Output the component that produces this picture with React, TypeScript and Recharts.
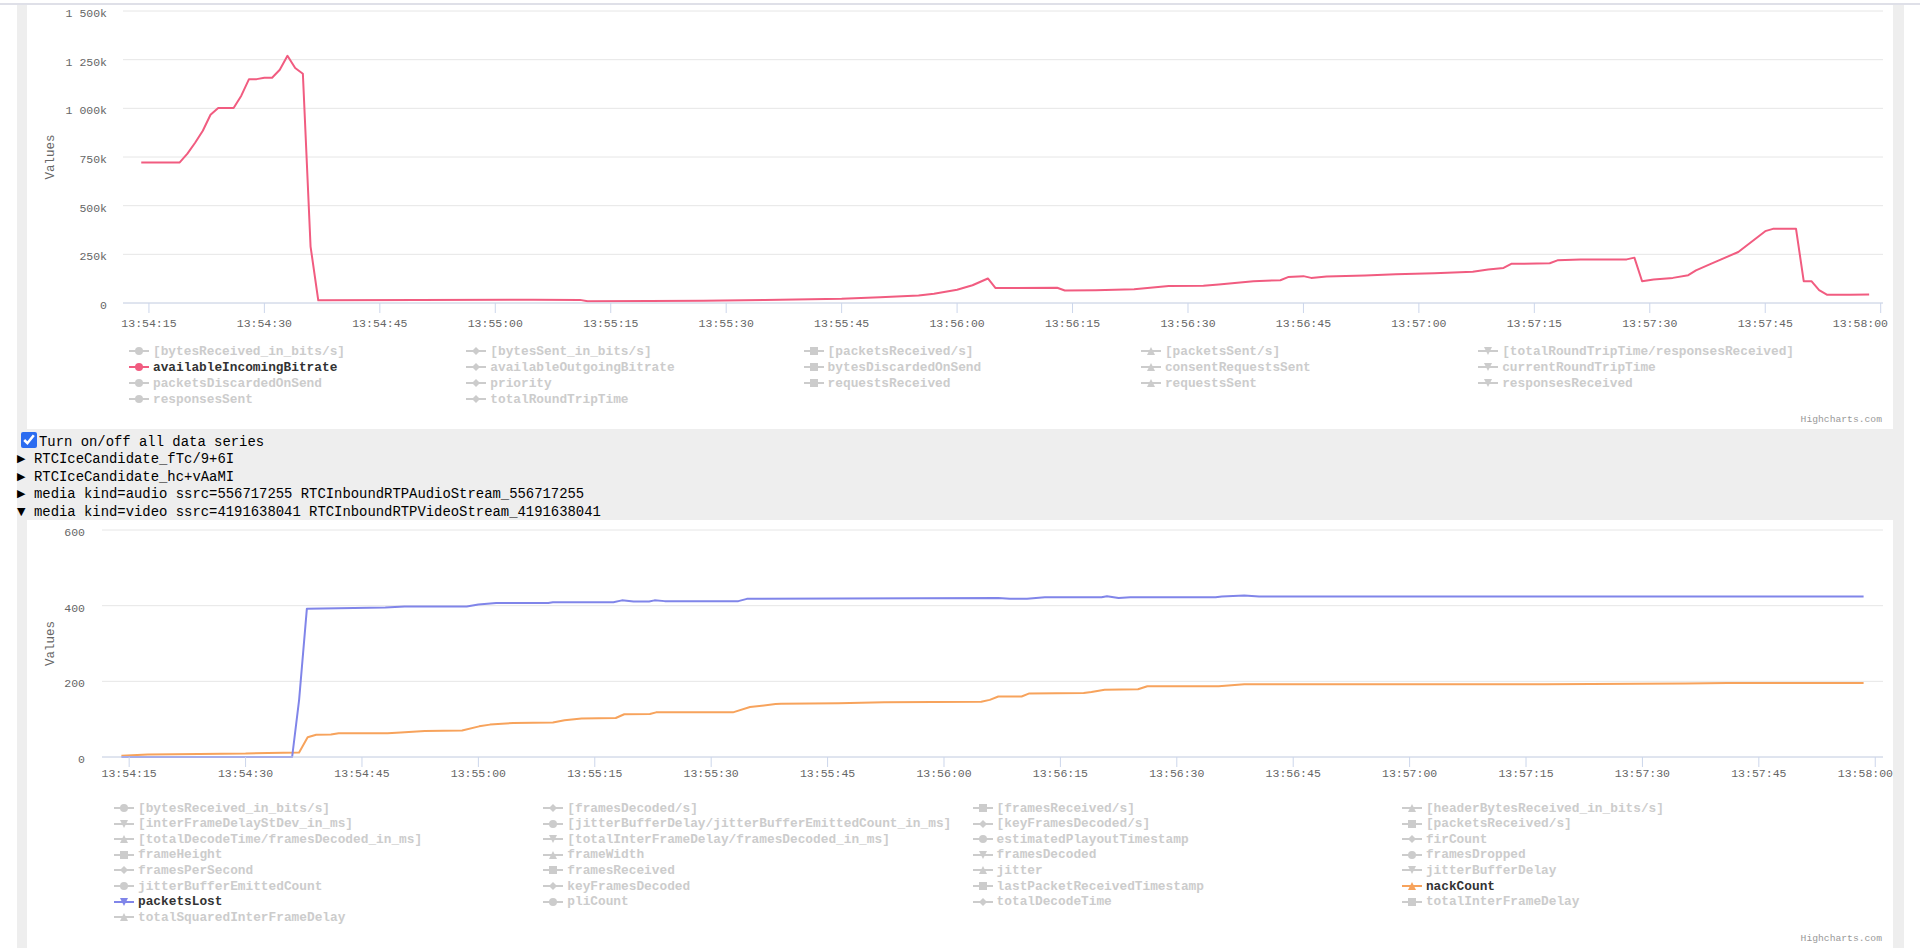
import React from "react";
import { LineChart, Line, XAxis, YAxis, CartesianGrid } from "recharts";

const MONO = '"Liberation Mono", "DejaVu Sans Mono", monospace';

// time is counted in seconds from 13:54:00
const timeTicks = [15, 30, 45, 60, 75, 90, 105, 120, 135, 150, 165, 180, 195, 210, 225, 240];

// availableIncomingBitrate (bits/s, read in k)
const bitrateTimes = [
  14, 19, 20, 21, 22, 23, 24, 26, 27, 28, 29, 30, 31, 32, 33, 34, 35, 36, 37, 50,
  65, 71, 72, 80, 87, 95, 105, 110, 115, 117, 120, 122, 124, 125, 133, 134, 138, 143, 147.5, 152,
  154, 158.5, 162, 163, 165, 166, 168, 173, 177, 182, 187, 189, 191, 192, 197, 198, 201, 207, 208, 209,
  210.5, 213, 215, 216, 218, 221.5, 225, 226, 229, 230, 231, 232, 233, 236, 238.5,
];
const bitrateK = [
  722, 722, 767, 823, 885, 967, 1002, 1002, 1065, 1150, 1150, 1157, 1157, 1198, 1270, 1207, 1178, 290, 14, 15,
  17, 16, 9, 10, 11, 15, 22, 30, 39, 48, 68, 91, 126, 77, 78, 64, 66, 71, 87, 88,
  95, 112, 117, 133, 138, 129, 136, 141, 148, 153, 161, 172, 180, 201, 204, 219, 223, 224, 233, 112,
  121, 129, 143, 168, 202, 262, 369, 381, 381, 112, 112, 66, 43, 43, 44,
];
const bitrateTicks = [0, 250000, 500000, 750000, 1000000, 1250000, 1500000];

// packetsLost
const lostTimes = [
  14, 36, 36.9, 37.9, 48, 50.5, 58.5, 60, 62.3, 69, 69.6, 77.4, 78.5, 80, 82, 82.7,
  84, 93.5, 94.6, 127, 128.5, 130.7, 133, 140.3, 141, 142.5, 144, 155, 155.8, 158.7, 160.6, 238.5,
];
const lostValues = [
  0, 0, 151, 392, 395, 398, 398, 403, 407, 407, 409, 409, 414, 411, 411, 414,
  412, 412, 418, 420, 418, 418, 422, 422, 425, 420, 422, 422, 424, 427, 424, 424,
];

// nackCount
const nackTimes = [
  14, 17.4, 24, 30, 32.9, 36.9, 38, 39.1, 41, 42, 48.3, 50, 53.1, 57.9, 60.1, 61.5,
  64.5, 69.6, 71.1, 73.3, 77.7, 78.8, 82.1, 82.9, 92.8, 95, 98.3, 99, 106.4, 112.3, 124.8, 125.9,
  127, 130, 131, 138, 139, 140.7, 145, 146.2, 155.4, 158.7, 197.4, 215.5, 221, 238.5,
];
const nackValues = [
  3.6, 6.3, 8.1, 9, 10.8, 11.7, 52, 58.6, 59.5, 63, 63, 65, 69, 70, 81, 85.6,
  90, 91, 97, 102, 103, 113, 113.5, 118, 118, 132, 140, 140.5, 142, 145, 146, 151,
  160, 160, 168, 169, 172, 178, 179, 187, 187, 192, 192, 194, 195.5, 195.5,
];
const videoTicks = [0, 200, 400, 600];

const connLegend = [
  "[bytesReceived_in_bits/s]", "[bytesSent_in_bits/s]", "[packetsReceived/s]", "[packetsSent/s]",
  "[totalRoundTripTime/responsesReceived]", "availableIncomingBitrate", "availableOutgoingBitrate",
  "bytesDiscardedOnSend", "consentRequestsSent", "currentRoundTripTime", "packetsDiscardedOnSend",
  "priority", "requestsReceived", "requestsSent", "responsesReceived", "responsesSent", "totalRoundTripTime",
];
const videoLegend = [
  "[bytesReceived_in_bits/s]", "[framesDecoded/s]", "[framesReceived/s]", "[headerBytesReceived_in_bits/s]",
  "[interFrameDelayStDev_in_ms]", "[jitterBufferDelay/jitterBufferEmittedCount_in_ms]", "[keyFramesDecoded/s]",
  "[packetsReceived/s]", "[totalDecodeTime/framesDecoded_in_ms]", "[totalInterFrameDelay/framesDecoded_in_ms]",
  "estimatedPlayoutTimestamp", "firCount", "frameHeight", "frameWidth", "framesDecoded", "framesDropped",
  "framesPerSecond", "framesReceived", "jitter", "jitterBufferDelay", "jitterBufferEmittedCount",
  "keyFramesDecoded", "lastPacketReceivedTimestamp", "nackCount", "packetsLost", "pliCount",
  "totalDecodeTime", "totalInterFrameDelay", "totalSquaredInterFrameDelay",
];
const sectionRows = [
  { open: false, text: "RTCIceCandidate_fTc/9+6I" },
  { open: false, text: "RTCIceCandidate_hc+vAaMI" },
  { open: false, text: "media kind=audio ssrc=556717255 RTCInboundRTPAudioStream_556717255" },
  { open: true, text: "media kind=video ssrc=4191638041 RTCInboundRTPVideoStream_4191638041" },
];

const COLORS: Record<string, string> = {
  availableIncomingBitrate: "#f15c80",
  nackCount: "#f7a35c",
  packetsLost: "#8085e9",
};
const SHAPES = ["circle", "diamond", "square", "triangle", "triangle-down"];

const bitrateData = bitrateTimes.map((t, i) => ({ t, v: bitrateK[i] * 1000 }));
const lostData = lostTimes.map((t, i) => ({ t, v: lostValues[i] }));
const nackData = nackTimes.map((t, i) => ({ t, v: nackValues[i] }));

const pad = (n: number) => String(n).padStart(2, "0");
const fmtTime = (t: number) => `13:${pad(54 + Math.floor(t / 60))}:${pad(Math.round(t % 60))}`;
const fmtBits = (v: number) =>
  v === 0 ? "0" : String(Math.round(v / 1000)).replace(/\B(?=(\d{3})+(?!\d))/g, " ") + "k";

const TICK_FONT = 11.5;
const tickStyle = { fontSize: TICK_FONT, fill: "#666666", fontFamily: MONO };

// last label is pushed left so it stays inside the chart, like highcharts does
function TimeTick({ x, y, payload, maxRight }: any) {
  const label = fmtTime(payload.value);
  const half = (label.length * 0.6 * TICK_FONT) / 2;
  const cx = Math.min(x, maxRight - half);
  return (
    <text x={cx} y={y} dy="0.71em" textAnchor="middle" {...tickStyle}>{label}</text>
  );
}

function AxisTitle({ at }: any) {
  const [x, y] = at;
  return (
    <text x={x} y={y} transform={`rotate(-90 ${x} ${y})`} textAnchor="middle"
      dominantBaseline="central" fontSize={12.5} fill="#666666" fontFamily={MONO}>
      Values
    </text>
  );
}

function Marker({ shape, color }: { shape: string; color: string }) {
  let m: React.ReactNode;
  if (shape === "circle") m = <circle cx={10} cy={6} r={4} fill={color} />;
  else if (shape === "diamond") m = <polygon points="10,2 14,6 10,10 6,6" fill={color} />;
  else if (shape === "square") m = <rect x={6} y={2} width={8} height={8} fill={color} />;
  else if (shape === "triangle") m = <polygon points="10,2 14,10 6,10" fill={color} />;
  else m = <polygon points="6,2 14,2 10,10" fill={color} />;
  return (
    <svg width={20} height={12} style={{ flex: "none" }}>
      <line x1={0} y1={6} x2={20} y2={6} stroke={color} strokeWidth={2} />
      {m}
    </svg>
  );
}

function LegendGrid({ items, left, top, cols, colW, rowH }: any) {
  return (
    <>
      {items.map((name: string, i: number) => {
        const active = COLORS[name];
        const x = left + (i % cols) * colW;
        const y = top + Math.floor(i / cols) * rowH;
        return (
          <div key={name + i} style={{
            position: "absolute", left: x, top: y - 8, height: 16, display: "flex",
            alignItems: "center", whiteSpace: "nowrap",
          }}>
            <Marker shape={SHAPES[i % 5]} color={active || "#cccccc"} />
            <span style={{
              marginLeft: 4, fontFamily: MONO, fontSize: 12.8, fontWeight: 700,
              color: active ? "#333333" : "#cccccc",
            }}>{name}</span>
          </div>
        );
      })}
    </>
  );
}

const credit = (top: number) => (
  <div style={{
    position: "absolute", right: 38, top: top - 6, fontFamily: MONO, fontSize: 9.7,
    color: "#999999", lineHeight: "12px",
  }}>Highcharts.com</div>
);

export default function App() {
  return (
    <div style={{
      position: "fixed", left: 0, top: 0, width: 1920, height: 948, background: "#ffffff",
      overflow: "hidden", fontFamily: MONO,
    }}>
      <div style={{ position: "absolute", left: 0, top: 3, width: 1920, height: 2, background: "#dfe0e8" }} />
      <div style={{ position: "absolute", left: 17, top: 5, width: 1887, height: 943, background: "#eeeeee" }} />
      <div style={{ position: "absolute", left: 27, top: 5, width: 1866, height: 424, background: "#ffffff" }} />
      <div style={{ position: "absolute", left: 27, top: 520, width: 1866, height: 428, background: "#ffffff" }} />

      {/* connection chart */}
      <div style={{ position: "absolute", left: 0, top: 0 }}>
        <LineChart width={1920} height={340} margin={{ top: 11, right: 37, bottom: 7, left: 0 }}>
          <CartesianGrid vertical={false} stroke="#e6e6e6" />
          <XAxis dataKey="t" type="number" domain={[11.63, 240.3]} ticks={timeTicks} interval={0}
            allowDataOverflow tick={<TimeTick maxRight={1888} />} height={30}
            tickSize={10} tickMargin={6} axisLine={{ stroke: "#ccd6eb" }} tickLine={{ stroke: "#ccd6eb" }} />
          <YAxis type="number" domain={[0, 1500000]} ticks={bitrateTicks} interval={0} width={123}
            tickFormatter={fmtBits} tick={{ ...tickStyle, dy: 2 }} axisLine={false} tickLine={false}
            tickSize={0} tickMargin={16} label={<AxisTitle at={[51, 157]} />} />
          <Line data={bitrateData} dataKey="v" type="linear" stroke={COLORS.availableIncomingBitrate}
            strokeWidth={2} strokeLinejoin="round" dot={false} isAnimationActive={false} />
        </LineChart>
      </div>
      <LegendGrid items={connLegend} left={129} top={351} cols={5} colW={337.3} rowH={16} />
      {credit(420)}

      {/* controls */}
      <input type="checkbox" defaultChecked readOnly style={{
        position: "absolute", left: 21, top: 432, width: 16, height: 16, margin: 0, accentColor: "#2b6cf0",
      }} />
      <div style={{ position: "absolute", left: 39, top: 433, fontSize: 13.9, lineHeight: "18px", color: "#000" }}>
        Turn on/off all data series
      </div>
      {sectionRows.map((r, i) => (
        <React.Fragment key={r.text}>
          <div style={{
            position: "absolute", left: 17, top: 450 + i * 17.7, fontSize: 11, lineHeight: "18px",
            color: "#000", fontFamily: '"DejaVu Sans", sans-serif',
          }}>{r.open ? "▼" : "▶"}</div>
          <div style={{
            position: "absolute", left: 34, top: 450 + i * 17.7, fontSize: 13.9, lineHeight: "18px",
            color: "#000", whiteSpace: "nowrap",
          }}>{r.text}</div>
        </React.Fragment>
      ))}

      {/* video chart */}
      <div style={{ position: "absolute", left: 0, top: 520 }}>
        <LineChart width={1920} height={280} margin={{ top: 10, right: 37, bottom: 13, left: 0 }}>
          <CartesianGrid vertical={false} stroke="#e6e6e6" />
          <XAxis dataKey="t" type="number" domain={[11.5, 241.0]} ticks={timeTicks} interval={0}
            allowDataOverflow tick={<TimeTick maxRight={1893} />} height={30}
            tickSize={10} tickMargin={2} axisLine={{ stroke: "#ccd6eb" }} tickLine={{ stroke: "#ccd6eb" }} />
          <YAxis type="number" domain={[0, 600]} ticks={videoTicks} interval={0} width={102}
            tick={{ ...tickStyle, dy: 2 }} axisLine={false} tickLine={false}
            tickSize={0} tickMargin={17} label={<AxisTitle at={[51, 123.5]} />} />
          <Line data={nackData} dataKey="v" type="linear" stroke={COLORS.nackCount}
            strokeWidth={2} strokeLinejoin="round" dot={false} isAnimationActive={false} />
          <Line data={lostData} dataKey="v" type="linear" stroke={COLORS.packetsLost}
            strokeWidth={2} strokeLinejoin="round" dot={false} isAnimationActive={false} />
        </LineChart>
      </div>
      <LegendGrid items={videoLegend} left={114} top={808} cols={4} colW={429.3} rowH={15.6} />
      {credit(939)}
    </div>
  );
}
